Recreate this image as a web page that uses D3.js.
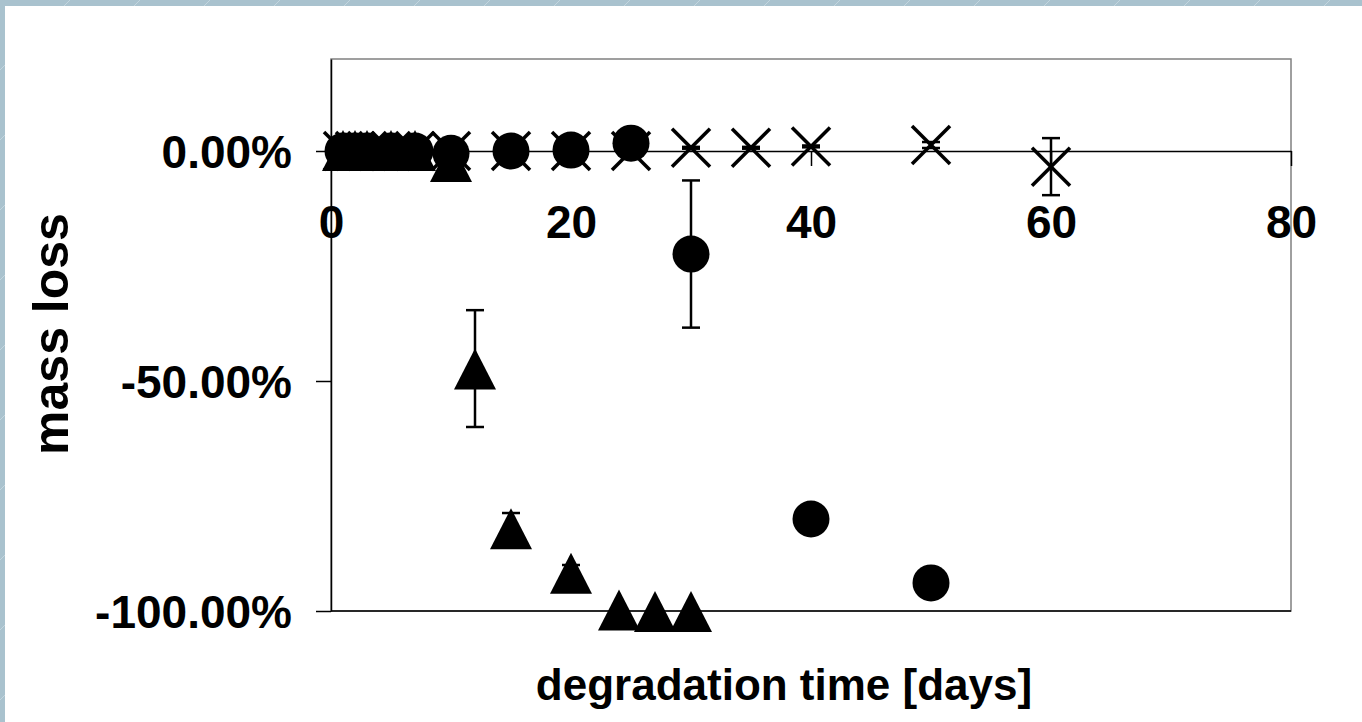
<!DOCTYPE html>
<html><head><meta charset="utf-8">
<script src="https://cdn.jsdelivr.net/npm/d3@7"></script>
<style>html,body{margin:0;padding:0;background:#fff;}svg{display:block;}</style>
</head><body>
<svg id="c" width="1362" height="722"></svg>
<script>
// ---- data ----
const xTicks = [0, 20, 40, 60, 80];
const yTicks = [0, -0.5, -1.0];
// series 1: filled circles
const circleDays   = [1, 2, 3, 5, 7, 10, 15, 20, 25, 30, 40, 50];
const circleValues = [0, 0, 0, 0, 0, -0.005, 0, 0.002, 0.017, -0.224, -0.80, -0.939];
const circleErrors = [0, 0, 0, 0, 0, 0.003, 0.003, 0.003, 0.003, 0.16, 0.004, 0.004];
// series 2: filled triangles
const triDays   = [1, 2, 3, 5, 7, 10, 12, 15, 20, 24, 27, 30];
const triValues = [0.002, 0.002, 0.002, 0.002, 0.002, -0.022, -0.473, -0.82, -0.917, -0.997, -1.0, -1.0];
const triErrors = [0, 0, 0, 0, 0, 0.003, 0.127, 0.033, 0.017, 0, 0, 0];
// series 3: crosses
const crossDays   = [1, 2, 3, 5, 7, 10, 15, 20, 25, 30, 35, 40, 50, 60];
const crossValues = [0, 0, 0, 0, 0, 0, 0, 0, 0, 0.007, 0.007, 0.010, 0.013, -0.034];
const crossErrors = [0, 0, 0, 0, 0, 0, 0, 0, 0, 0.002, 0.002, 0.002, 0.0065, 0.062];

const svg = d3.select("#c");
const W = 1362, H = 722;

// slide background frame
const defs = svg.append("defs");
const pat = defs.append("pattern").attr("id","diag").attr("patternUnits","userSpaceOnUse")
  .attr("width",70).attr("height",70);
pat.append("rect").attr("width",70).attr("height",70).attr("fill","#a9c2ce");
pat.append("line").attr("x1",0).attr("y1",70).attr("x2",70).attr("y2",0)
  .attr("stroke","#c3d5de").attr("stroke-width",1);
svg.append("rect").attr("width",W).attr("height",H).attr("fill","url(#diag)");
svg.append("rect").attr("x",5).attr("y",6).attr("width",W-5).attr("height",H-6).attr("fill","#fff");

const x = d3.scaleLinear().domain([0, 80]).range([331, 1291]);
const y = d3.scaleLinear().domain([-1, 0.2]).range([611, 59]);

const font = "'Liberation Sans', Arial, sans-serif";
const pct = d => d3.format(".2%")(d).replace("\u2212", "-");

// plot box (top/right grey)
svg.append("rect").attr("x", x(0)).attr("y", y(0.2))
  .attr("width", x(80)-x(0)).attr("height", y(-1)-y(0.2))
  .attr("fill","none").attr("stroke","#808080").attr("stroke-width",1.5);
// bottom line at -100%
svg.append("line").attr("x1",x(0)).attr("x2",x(80)).attr("y1",y(-1)).attr("y2",y(-1))
  .attr("stroke","#000").attr("stroke-width",1.5);

// y axis
const yAxis = svg.append("g").attr("transform",`translate(${x(0)},0)`)
  .call(d3.axisLeft(y).tickValues(yTicks).tickSize(15).tickSizeOuter(0).tickFormat(pct));
yAxis.select(".domain").attr("stroke","#000").attr("stroke-width",1.5);
yAxis.selectAll(".tick line").attr("stroke","#000").attr("stroke-width",1.5);
yAxis.selectAll(".tick text").attr("x",-39).attr("dy","0.36em")
  .attr("font-family",font).attr("font-size",46).attr("font-weight","bold").attr("fill","#000");

// x axis at y=0
const xAxis = svg.append("g").attr("transform",`translate(0,${y(0)})`)
  .call(d3.axisBottom(x).tickValues(xTicks).tickSize(15).tickSizeOuter(0).tickFormat(d3.format("d")));
xAxis.select(".domain").attr("stroke","#000").attr("stroke-width",1.5);
xAxis.selectAll(".tick line").attr("stroke","#000").attr("stroke-width",1.5);
xAxis.selectAll(".tick text").attr("y",87).attr("dy",0)
  .attr("font-family",font).attr("font-size",46).attr("font-weight","bold").attr("fill","#000");

// titles
svg.append("text").attr("x",784).attr("y",700).attr("text-anchor","middle")
  .attr("font-family",font).attr("font-size",44).attr("font-weight","bold").text("degradation time [days]");
svg.append("text").attr("transform","translate(68,334) rotate(-90)").attr("text-anchor","middle")
  .attr("font-family",font).attr("font-size",50).attr("font-weight","bold").text("mass loss");

function errorBars(days, vals, errs) {
  const g = svg.append("g").attr("stroke","#000").attr("stroke-width",2.5);
  days.forEach((d,i) => {
    if (!errs[i]) return;
    const cx = x(d), y1 = y(vals[i]+errs[i]), y2 = y(vals[i]-errs[i]);
    g.append("line").attr("x1",cx).attr("x2",cx).attr("y1",y1).attr("y2",y2);
    g.append("line").attr("x1",cx-9).attr("x2",cx+9).attr("y1",y1).attr("y2",y1);
    g.append("line").attr("x1",cx-9).attr("x2",cx+9).attr("y1",y2).attr("y2",y2);
  });
}

// triangles
const triG = svg.append("g");
triDays.forEach((d,i) => {
  const cx = x(d), cy = y(triValues[i]);
  triG.append("path").attr("d",`M${cx},${cy-20} L${cx+21},${cy+21} L${cx-21},${cy+21} Z`).attr("fill","#000");
});
errorBars(triDays, triValues, triErrors);

// crosses
const crG = svg.append("g").attr("stroke","#000").attr("stroke-width",3.5);
crossDays.forEach((d,i) => {
  const cx = x(d), cy = y(crossValues[i]), s = 19;
  crG.append("line").attr("x1",cx-s).attr("y1",cy-s).attr("x2",cx+s).attr("y2",cy+s);
  crG.append("line").attr("x1",cx-s).attr("y1",cy+s).attr("x2",cx+s).attr("y2",cy-s);
});
errorBars(crossDays, crossValues, crossErrors);

// circles
const ciG = svg.append("g");
circleDays.forEach((d,i) => {
  ciG.append("circle").attr("cx",x(d)).attr("cy",y(circleValues[i])).attr("r",18.5).attr("fill","#000");
});
errorBars(circleDays, circleValues, circleErrors);
</script>
</body></html>
